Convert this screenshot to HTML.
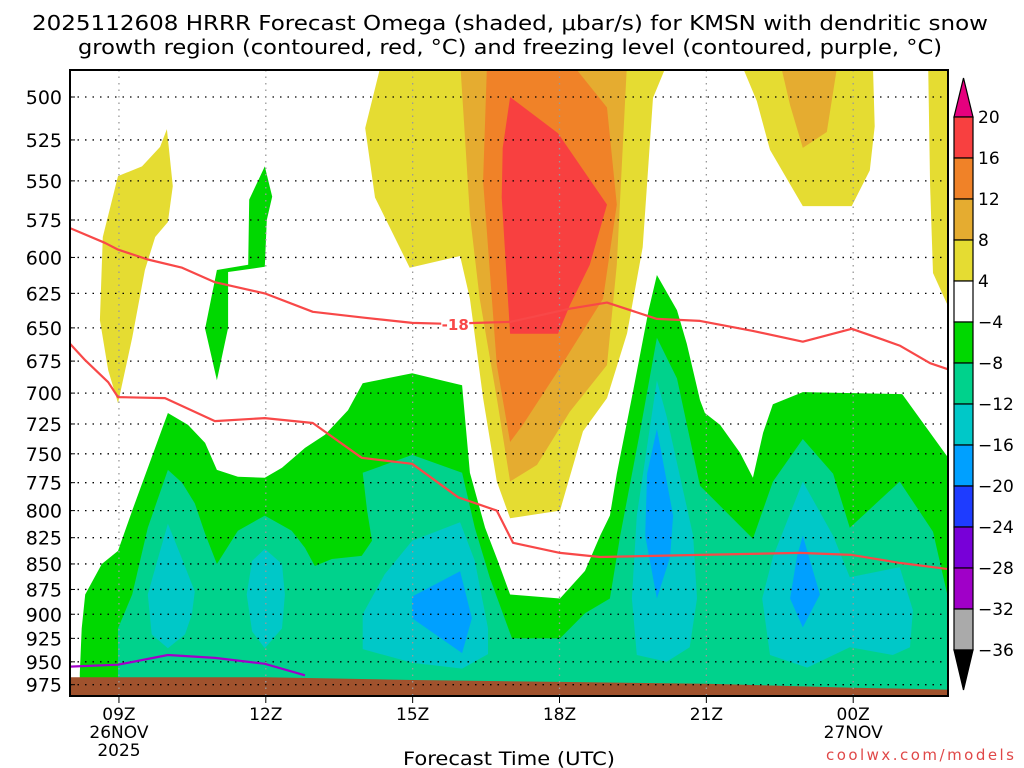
<!DOCTYPE html>
<html><head><meta charset="utf-8"><style>
html,body{margin:0;padding:0;background:#fff;}
svg{display:block;font-family:"DejaVu Sans","Liberation Sans",sans-serif;}
</style></head><body>
<svg id="chart" width="1024" height="768" viewBox="0 0 1024 768" xmlns="http://www.w3.org/2000/svg">
<defs><clipPath id="plotclip"><rect x="70" y="70" width="878" height="626"/></clipPath></defs>
<text x="510" y="30" font-size="20" text-anchor="middle" textLength="956" lengthAdjust="spacingAndGlyphs">2025112608 HRRR Forecast Omega (shaded, μbar/s) for KMSN with dendritic snow</text>
<text x="510" y="54" font-size="20" text-anchor="middle" textLength="864" lengthAdjust="spacingAndGlyphs">growth region (contoured, red, °C) and freezing level (contoured, purple, °C)</text>
<g id="plot" clip-path="url(#plotclip)"></g>
<g id="grid"></g>
<g id="lines" clip-path="url(#plotclip)"></g>
<rect x="70" y="70" width="878" height="626" fill="none" stroke="#000" stroke-width="2"/>
<g id="yaxis"></g>
<g id="xaxis"></g>
<g id="cbar"></g>
<text x="509" y="765" font-size="19" text-anchor="middle" textLength="212" lengthAdjust="spacingAndGlyphs">Forecast Time (UTC)</text>
<text x="1014" y="760" font-size="15" fill="#e04848" text-anchor="end" textLength="188" lengthAdjust="spacing">coolwx.com/models</text>
</svg>
<script>
// axis domains
const hMin = 8.0, hMax = 25.94;
const pTop = 485, pBottom = 987;
const pressureTicks = [500,525,550,575,600,625,650,675,700,725,750,775,800,825,850,875,900,925,950,975];
const timeTicks = [9,12,15,18,21,24];
const timeLabels = ["09Z","12Z","15Z","18Z","21Z","00Z"];
const dateLabels = [["26NOV","2025"],[],[],[],[],["27NOV"]];
const cbarLevels = ["20","16","12","8","4","-4","-8","-12","-16","-20","-24","-28","-32","-36"];
const cbarColors = ["#f84040","#f08228","#e5ac30","#e5dc32","#ffffff","#00d800","#00d28c","#00c8c8","#00a0ff","#1e3cff","#7800d8","#a000c8","#aaaaaa"];

// contour fill polygons: [hour, pressure] pairs
const yellowCenter = [[14.37,480],[14.03,518],[14.23,560.5],[14.94,607],[15.97,599],[16.17,628.7],[16.44,704],[16.72,774],[16.99,807],[18.01,800],[18.48,731],[18.97,704],[19.38,654],[19.70,593],[19.91,500.5],[20.22,480]];
const orangeLightCenter = [[15.97,480],[16.17,571.7],[16.37,628.7],[16.72,704],[16.99,774],[17.54,759.5],[18.21,715],[18.97,678],[19.17,605],[19.38,480]];
const orangeCenter = [[16.52,480],[16.44,550],[16.72,678],[16.99,740],[17.25,725.8],[17.95,683.6],[18.89,628.7],[19.17,565],[18.97,506],[18.21,480]];
const redCenter = [[16.99,500],[16.84,529.8],[16.82,560.5],[16.99,654.4],[17.97,654.4],[18.21,633.6],[18.62,605],[18.97,565],[17.97,521]];
const yellowTopRight = [[21.69,480],[22.03,502.3],[22.30,531],[22.97,566],[23.97,566],[24.34,543.5],[24.44,517],[24.40,480]];
const orangeLightTopRight = [[22.50,480],[22.71,504.7],[22.97,529.8],[23.46,520.3],[23.69,480]];
const yellowRightEdge = [[25.53,480],[25.57,553],[25.63,610.7],[25.94,634.5],[26.1,634.5],[26.1,480]];
const yellowLeft = [[9.98,518.6],[10.10,553.3],[10.00,576.3],[9.74,586.2],[9.53,608.6],[9.27,657.4],[8.98,708],[8.78,682],[8.61,644.3],[8.67,586.2],[8.98,547],[9.47,541],[9.84,529.2]];
const greenStrip = [[11.98,541],[12.13,559.9],[12.02,575],[11.98,606.4],[11.23,610],[11.23,650],[11.00,689.8],[10.76,650.7],[11.00,608.6],[11.64,605],[11.66,561.8]];
const greenMain = [[8.20,962.5],[8.24,914.6],[8.31,880],[8.65,850],[8.98,837.5],[9.27,800],[10.0,716],[10.41,725.8],[10.76,740.8],[11.0,763.8],[11.43,769.8],[11.98,770.7],[12.33,762],[12.80,745],[13.21,734],[13.68,713.7],[13.98,692.2],[14.99,684.4],[16.01,693.8],[16.17,766.4],[16.48,815.7],[16.74,847.1],[16.99,880],[18.01,884],[18.52,856.7],[18.83,823.1],[19.03,804.6],[19.17,767.2],[19.50,699.2],[19.82,637.1],[19.99,612.1],[20.40,637.1],[20.60,661.8],[20.87,705.6],[20.97,716],[21.28,725.8],[21.69,749.2],[21.95,770.7],[22.16,732.3],[22.36,708.9],[22.97,699.2],[25.0,700.8],[25.94,753.4],[26.1,760],[26.1,995],[8.20,995]];
const tealMain = [[8.98,957.3],[8.98,914.6],[9.27,880],[9.59,815.7],[10.0,763.8],[10.29,775],[10.55,793.5],[10.76,821.3],[11.0,850],[11.43,818.5],[11.98,804.6],[12.53,818.5],[12.80,834.6],[13.0,852],[13.35,845.2],[13.96,842.3],[14.17,827.9],[14.07,800],[13.98,766.4],[14.99,750.9],[16.01,766.4],[16.27,815.7],[16.58,864],[17.03,925],[18.01,925],[18.52,899],[19.03,884],[19.24,823.1],[19.64,732.3],[19.99,657.4],[20.40,688.5],[20.87,777.8],[21.95,826],[22.36,774.1],[22.97,737.5],[23.59,767.2],[23.93,815.7],[24.95,774.1],[25.63,819.4],[25.94,884],[26.1,900],[26.1,995],[8.98,995]];
const cyanA = [[10.0,812],[10.25,840.4],[10.55,877],[10.49,900],[10.35,920.8],[10.0,935.4],[9.67,920.8],[9.59,880],[9.74,854]];
const cyanB = [[11.98,835.6],[12.33,850],[12.39,880],[12.33,914.6],[11.98,935.4],[11.72,917.7],[11.61,880],[11.72,847.1]];
const cyanC = [[13.98,900],[14.43,860],[14.99,827.9],[15.97,810.7],[16.27,847.1],[16.54,914.6],[16.54,941.7],[16.01,957.3],[14.99,951],[13.98,936.4]];
const cyanD = [[19.99,690],[20.19,719],[20.73,823],[20.81,884],[20.66,934.4],[20.19,950],[19.58,942.7],[19.48,884],[19.58,804.6]];
const cyanE = [[22.97,774.1],[23.59,823.1],[23.93,863],[24.95,853],[25.22,896],[25.16,934.4],[24.81,942.7],[23.93,934.4],[23.06,956.3],[22.30,942.7],[22.14,884],[22.36,843.3]];
const blueA = [[14.99,882],[15.97,857],[16.21,904],[16.01,940.6],[14.99,904]];
const blueB = [[19.99,729],[20.32,804.6],[20.26,843.3],[19.99,884],[19.75,823.1],[19.79,767.2]];
const blueC = [[22.97,823.1],[23.32,880],[22.97,913.5],[22.71,884],[22.85,843.3]];
// surface pressure (ground)
const groundHours = [8.0,12,15,18,21,24,26];
const groundPressure = [966.7,966.7,969.8,971.9,974,978.3,980.6];
// temperature contours
const dgzUpper = [[8.0,580.3],[8.71,590.1],[8.98,594.7],[9.59,601.4],[10.29,607],[10.96,617.1],[11.98,625],[12.96,638.2],[14.03,642.6],[14.99,646.3],[15.70,647],[16.31,646.3],[16.99,645.6],[18.21,636],[18.97,631.6],[19.99,643.4],[20.87,644.9],[21.95,652.2],[22.97,660.3],[23.97,650.7],[24.61,658.8],[24.95,663.2],[25.57,676.6],[25.94,681.3]];
const dgzLower = [[8.0,661.8],[8.31,674.3],[8.78,691.4],[8.98,703.2],[9.94,704],[10.96,722.6],[11.98,720.2],[12.96,724.2],[13.96,753.4],[14.99,758.6],[15.93,788],[16.72,800],[17.05,829.8],[18.01,839.4],[18.83,843.3],[20.87,841.3],[22.91,839.4],[23.97,841.3],[24.95,849],[25.94,855]];
const freezing = [[8.0,955.2],[8.98,953.1],[10.0,942.7],[10.96,945.8],[11.98,952.1],[12.80,964.6]];
const dgzLabel = {h:15.87, p:647, text:"-18"};

const NS = "http://www.w3.org/2000/svg";
const X = h => 70 + (h - hMin) * 48.95;
const Y = p => 97 + 880 * Math.log(p / 500);
function mk(tag, attrs, parent){const e=document.createElementNS(NS,tag);for(const k in attrs)e.setAttribute(k,attrs[k]);parent.appendChild(e);return e;}
const plot = document.getElementById('plot');
function poly(arr, color, name){
  const pts = arr.map(d => X(d[0]).toFixed(1)+','+Y(d[1]).toFixed(1)).join(' ');
  const e = mk('polygon',{points:pts,fill:color},plot);
  
  
}
poly(yellowCenter,"#e5dc32","fill-yellow-center");
poly(orangeLightCenter,"#e5ac30","fill-orange-light-center");
poly(orangeCenter,"#f08228","fill-orange-center");
poly(redCenter,"#f84040","fill-red-center");
poly(yellowTopRight,"#e5dc32","fill-yellow-top-right");
poly(orangeLightTopRight,"#e5ac30","fill-orange-light-top-right");
poly(yellowRightEdge,"#e5dc32","fill-yellow-right-edge");
poly(yellowLeft,"#e5dc32","fill-yellow-left");
poly(greenStrip,"#00d800","fill-green-strip");
poly(greenMain,"#00d800","fill-green-main");
poly(tealMain,"#00d28c","fill-teal-main");
poly(cyanA,"#00c8c8","fill-cyan-a");
poly(cyanB,"#00c8c8","fill-cyan-b");
poly(cyanC,"#00c8c8","fill-cyan-c");
poly(cyanD,"#00c8c8","fill-cyan-d");
poly(cyanE,"#00c8c8","fill-cyan-e");
poly(blueA,"#00a0ff","fill-blue-a");
poly(blueB,"#00a0ff","fill-blue-b");
poly(blueC,"#00a0ff","fill-blue-c");
// ground
{
  let pts = groundHours.map((h,i)=>X(h).toFixed(1)+','+Y(groundPressure[i]).toFixed(1));
  pts.push(X(26)+','+Y(pBottom+10)); pts.push(X(8)+','+Y(pBottom+10));
  const g = mk('polygon',{points:pts.join(' '),fill:"#a0522d"},plot);
  
  
}
// grid
const grid = document.getElementById('grid');
pressureTicks.forEach(p=>{
  const l = mk('line',{x1:70,x2:948,y1:Y(p),y2:Y(p),stroke:"#000","stroke-width":1.3,"stroke-dasharray":"1.5 6"},grid);
  
  
});
timeTicks.forEach(h=>{
  const l = mk('line',{x1:X(h),x2:X(h),y1:70,y2:696,stroke:"#999","stroke-width":1.3,"stroke-dasharray":"1.5 5"},grid);
  
  
});
// lines
const lines = document.getElementById('lines');
function pl(arr,color,name){
  const e = mk('polyline',{points:arr.map(d=>X(d[0]).toFixed(1)+','+Y(d[1]).toFixed(1)).join(' '),fill:"none",stroke:color,"stroke-width":2.2,"stroke-linejoin":"round"},lines);
  
  
}
pl(dgzUpper,"#f84848","dgz-isotherm-upper");
pl(dgzLower,"#f84848","dgz-isotherm-lower");
pl(freezing,"#a000c8","freezing-level-line");
{
  const lx = X(dgzLabel.h), ly = Y(dgzLabel.p);
  const r = mk('rect',{x:lx-14,y:ly-8,width:28,height:16,fill:"#fff"},lines);
  
  
  const t = mk('text',{x:lx,y:ly+6,"font-size":15,"font-weight":"bold",fill:"#f84848","text-anchor":"middle"},lines);
  t.textContent = dgzLabel.text;
  
  
}
// y axis
const ya = document.getElementById('yaxis');
pressureTicks.forEach(p=>{
  const t = mk('text',{x:62,y:Y(p)+7,"font-size":19,"text-anchor":"end"},ya);
  t.textContent = p;
  
  
  const k = mk('line',{x1:70,x2:75,y1:Y(p),y2:Y(p),stroke:"#000","stroke-width":1},ya);
  
  
});
// x axis
const xa = document.getElementById('xaxis');
timeTicks.forEach((h,i)=>{
  const k = mk('line',{x1:X(h),x2:X(h),y1:696,y2:703,stroke:"#000","stroke-width":1},xa);
  
  
  const t = mk('text',{x:X(h),y:720,"font-size":17,"text-anchor":"middle"},xa);
  t.textContent = timeLabels[i];
  
  
  dateLabels[i].forEach((s,j)=>{
    const d = mk('text',{x:X(h),y:738+j*18,"font-size":17,"text-anchor":"middle"},xa);
    d.textContent = s;
    
    
  });
});
// colorbar
const cb = document.getElementById('cbar');
const cbTop = 117, cbStep = 41, cbX = 954, cbW = 19;
{
  const tri = mk('polygon',{points:`${cbX},${cbTop} ${cbX+cbW},${cbTop} ${cbX+cbW/2},${cbTop-39}`,fill:"#e6007e",stroke:"#000","stroke-width":1.2},cb);
  
  
}
cbarColors.forEach((c,i)=>{
  const r = mk('rect',{x:cbX,y:cbTop+i*cbStep,width:cbW,height:cbStep,fill:c,stroke:"#000","stroke-width":1.2},cb);
  
  
});
{
  const yb = cbTop + cbarColors.length*cbStep;
  const tri = mk('polygon',{points:`${cbX},${yb} ${cbX+cbW},${yb} ${cbX+cbW/2},${yb+40}`,fill:"#000",stroke:"#000","stroke-width":1.2},cb);
  
  
}
cbarLevels.forEach((s,i)=>{
  const t = mk('text',{x:978,y:cbTop+i*cbStep+6,"font-size":17},cb);
  t.textContent = s.replace('-', '\u2212');
  
  
});
</script>
</body></html>
